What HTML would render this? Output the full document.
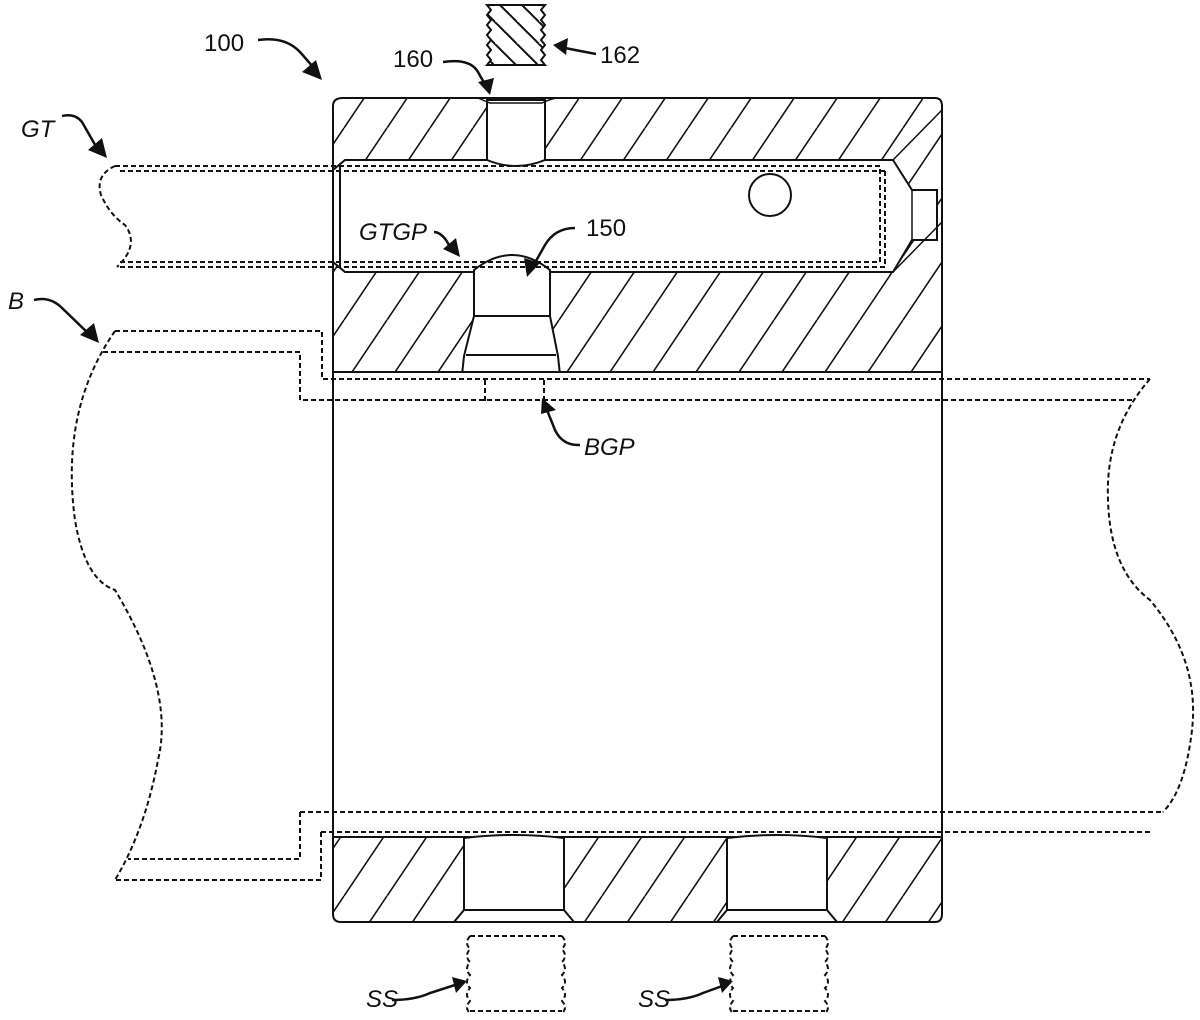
<!DOCTYPE html>
<html><head><meta charset="utf-8"><style>
html,body{margin:0;padding:0;background:#fff;}
svg{display:block;}
text{font-family:"Liberation Sans",sans-serif;font-size:24px;fill:#111;}
</style></head><body>
<svg width="1200" height="1020" viewBox="0 0 1200 1020" xmlns="http://www.w3.org/2000/svg">
<defs>
<pattern id="h" patternUnits="userSpaceOnUse" width="43" height="64">
<path d="M-43,64 L0,0 M0,64 L43,0 M43,64 L86,0" stroke="#111" stroke-width="1.6" fill="none"/>
</pattern>
<pattern id="h2" patternUnits="userSpaceOnUse" width="22" height="22">
<path d="M-11,0 L11,22 M0,-11 L22,11 M11,0 L33,22 M0,11 L11,22" stroke="#111" stroke-width="2" fill="none"/>
</pattern>
</defs>

<g stroke="#111" stroke-width="2" fill="url(#h)">
<path d="M343,98 L935,98 Q942,98 942,106 L942,372 L333,372 L333,106 Q333,98 343,98 Z"/>
<path d="M333,837 L942,837 L942,914 Q942,922 935,922 L341,922 Q333,922 333,914 Z"/>
</g>
<path d="M345,160 L893,160 L912,190 L937,190 L937,240 L912,240 L893,272 L345,272 L333,262 L333,170 Z" fill="#fff" stroke="#111" stroke-width="2"/>
<path d="M333,150 L333,280 M340,165 L340,268" stroke="#111" stroke-width="2"/>
<path d="M912,190 L912,240" stroke="#111" stroke-width="1.5"/>
<path d="M893,160 L942,110 M893,272 L942,222" stroke="#111" stroke-width="1.5"/>
<path d="M487,100 L545,100 L545,160 Q516,172 487,160 Z" fill="#fff" stroke="#111" stroke-width="2"/>
<path d="M478,98 Q487,102 490,103 L542,103 Q548,100 556,98" fill="none" stroke="#111" stroke-width="1.5"/>
<path d="M474,270 Q512,240 550,270 L550,316 L558,356 L560,375 L462,375 L464,356 L474,316 Z" fill="#fff" stroke="#111" stroke-width="2"/>
<path d="M474,316 L550,316 M466,355 L556,355" stroke="#111" stroke-width="2"/>
<circle cx="770" cy="195" r="21" fill="#fff" stroke="#111" stroke-width="2"/>
<rect x="333" y="372" width="609" height="465" fill="#fff" stroke="#111" stroke-width="2"/>
<g fill="#fff" stroke="#111" stroke-width="2">
<path d="M464,838 Q514,832 564,838 L564,910 L574,922 L454,922 L464,910 Z"/>
<path d="M727,838 Q777,832 827,838 L827,910 L837,922 L717,922 L727,910 Z"/>
</g>
<path d="M464,910 L564,910 M727,910 L827,910" stroke="#111" stroke-width="2"/>

<g fill="none" stroke="#111" stroke-width="2" stroke-dasharray="5,3">
<path d="M115,166 L880,166 L880,262 L117,262"/>
<path d="M120,171 L885,171 M885,171 L885,267 L117,267"/>
<path d="M115,166 Q95,175 101,195 Q110,215 125,225 Q140,245 117,267"/>
<path d="M115,331 L322,331 L322,379 L1150,379"/>
<path d="M103,352 L300,352 L300,400 L1135,400"/>
<path d="M115,331 Q60,410 75,520 Q85,580 115,590 Q175,690 158,760 Q145,830 115,880"/>
<path d="M1150,379 Q1105,430 1108,500 Q1110,570 1150,600 Q1200,660 1192,730 Q1185,790 1163,812"/>
<path d="M300,812 L1163,812 M300,812 L300,859 L128,859"/>
<path d="M321,832 L1150,832 M321,832 L321,880 L115,880"/>
<path d="M485,380 L485,402 M544,380 L544,402"/>
<path d="M470,936 L562,936 M470,1011 L562,1011 M470,936 q-6,7 0,13 q-6,7 0,13 q-6,7 0,13 q-6,7 0,13 q-6,7 0,13 q-6,7 0,12 M562,936 q6,7 0,13 q6,7 0,13 q6,7 0,13 q6,7 0,13 q6,7 0,13 q6,7 0,12"/>
<path d="M733,936 L825,936 M733,1011 L825,1011 M733,936 q-6,7 0,13 q-6,7 0,13 q-6,7 0,13 q-6,7 0,13 q-6,7 0,13 q-6,7 0,12 M825,936 q6,7 0,13 q6,7 0,13 q6,7 0,13 q6,7 0,13 q6,7 0,13 q6,7 0,12"/>
</g>

<path d="M487,5 L545,5 l-4,5 l4,5 l-4,5 l4,5 l-4,5 l4,5 l-4,5 l4,5 l-4,5 l4,5 l-4,5 L545,65 L487,65 l4,-5 l-4,-5 l4,-5 l-4,-5 l4,-5 l-4,-5 l4,-5 l-4,-5 l4,-5 l-4,-5 l4,-5 Z" fill="url(#h2)" stroke="#111" stroke-width="2"/>

<g fill="none" stroke="#111" stroke-width="2.5">
<path d="M258,40 Q285,36 300,52 L314,68"/>
<path d="M443,62 Q470,58 478,72 L487,88"/>
<path d="M596,54 Q575,50 560,47"/>
<path d="M62,116 Q75,113 82,122 L98,150"/>
<path d="M34,300 Q50,296 62,308 L90,335"/>
<path d="M434,232 Q440,232 446,240 L452,250"/>
<path d="M575,228 Q555,228 545,245 L532,268"/>
<path d="M580,445 Q560,446 553,425 L547,410"/>
<path d="M392,1000 Q415,1000 430,993 L455,985"/>
<path d="M665,1000 Q688,1000 703,993 L725,985"/>
</g>
<g fill="#111">
<polygon points="322,80 302,72 316,60"/>
<polygon points="490,95 478,82 494,78"/>
<polygon points="553,45 568,38 566,55"/>
<polygon points="107,158 88,150 102,138"/>
<polygon points="99,343 80,335 94,323"/>
<polygon points="460,257 443,249 456,238"/>
<polygon points="527,277 524,258 540,263"/>
<polygon points="542,398 556,410 541,414"/>
<polygon points="467,981 452,977 456,993"/>
<polygon points="733,981 718,977 722,993"/>
</g>

<text x="204" y="51">100</text>
<text x="393" y="67">160</text>
<text x="600" y="63">162</text>
<text x="21" y="137" font-style="italic">GT</text>
<text x="8" y="309" font-style="italic">B</text>
<text x="359" y="240" font-style="italic">GTGP</text>
<text x="586" y="236">150</text>
<text x="584" y="455" font-style="italic">BGP</text>
<text x="366" y="1007" font-style="italic">SS</text>
<text x="638" y="1007" font-style="italic">SS</text>
</svg>
</body></html>
